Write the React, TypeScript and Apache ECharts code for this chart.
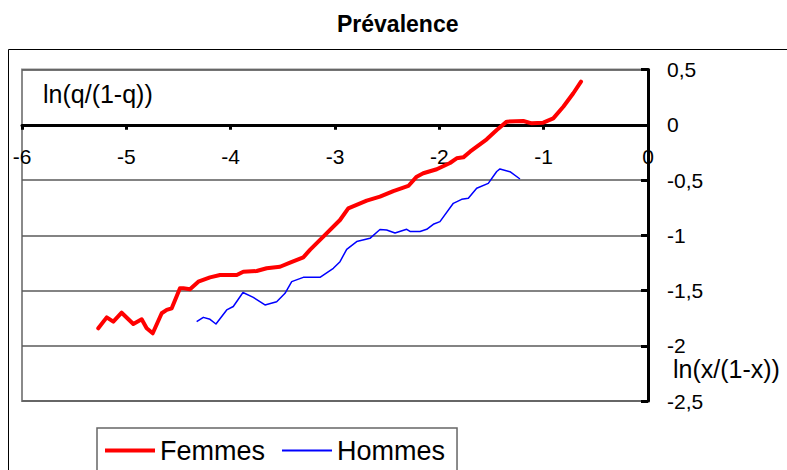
import React, { useEffect, useRef } from "react";
import * as echarts from "echarts";

const FONT = "'Liberation Sans', Arial, sans-serif";

const seriesNames = ["Femmes", "Hommes"];

const femmesX = [
  -5.269, -5.188, -5.125, -5.045, -4.933, -4.853, -4.805, -4.747, -4.661, -4.613,
  -4.565, -4.486, -4.454, -4.39, -4.31, -4.198, -4.102, -3.942, -3.879, -3.751,
  -3.655, -3.527, -3.431, -3.304, -3.24, -3.112, -2.952, -2.873, -2.696, -2.569,
  -2.441, -2.297, -2.217, -2.154, -2.025, -1.898, -1.834, -1.77, -1.706, -1.546,
  -1.45, -1.354, -1.195, -1.115, -1.004, -0.908, -0.812, -0.716, -0.642,
];
const femmesY = [
  -1.842, -1.743, -1.782, -1.701, -1.803, -1.761, -1.842, -1.887, -1.706, -1.676,
  -1.661, -1.48, -1.48, -1.489, -1.42, -1.381, -1.36, -1.36, -1.33, -1.324,
  -1.299, -1.285, -1.248, -1.2, -1.133, -1.013, -0.862, -0.756, -0.687, -0.651,
  -0.6, -0.554, -0.47, -0.439, -0.403, -0.346, -0.304, -0.295, -0.244, -0.132,
  -0.048, 0.028, 0.034, 0.013, 0.019, 0.058, 0.163, 0.285, 0.39,
];

const hommesX = [
  -4.326, -4.262, -4.198, -4.141, -4.038, -3.975, -3.882, -3.783, -3.671, -3.559,
  -3.479, -3.415, -3.304, -3.144, -3.016, -2.952, -2.888, -2.792, -2.665, -2.569,
  -2.505, -2.425, -2.313, -2.281, -2.185, -2.121, -2.058, -1.994, -1.866, -1.786,
  -1.722, -1.642, -1.531, -1.45, -1.419, -1.323, -1.227,
];
const hommesY = [
  -1.782, -1.743, -1.761, -1.803, -1.676, -1.645, -1.518, -1.562, -1.631, -1.601,
  -1.525, -1.42, -1.381, -1.381, -1.299, -1.239, -1.127, -1.057, -1.028, -0.948,
  -0.952, -0.98, -0.946, -0.966, -0.966, -0.946, -0.901, -0.877, -0.711, -0.675,
  -0.666, -0.575, -0.53, -0.423, -0.4, -0.425, -0.491,
];

const titleText = "Prévalence";
const yAxisTitle = "ln(q/(1-q))";
const xAxisTitle = "ln(x/(1-x))";

const pairs = (xs: number[], ys: number[]) => xs.map((x, i) => [x, ys[i]]);

export default function App() {
  const ref = useRef<HTMLDivElement>(null);

  useEffect(() => {
    if (!ref.current) return;
    const chart = echarts.init(ref.current, null, { renderer: "svg" });
    const xMin = -6;
    const xMax = 0;
    chart.setOption({
      animation: false,
      backgroundColor: "#fff",
      title: {
        text: titleText,
        left: 337,
        top: 12,
        padding: 0,
        textStyle: { fontFamily: FONT, fontSize: 23, fontWeight: "bold", color: "#000" },
      },
      grid: [
        {
          left: 22,
          top: 69.5,
          right: 139,
          bottom: 69,
          show: true,
          borderColor: "#8a8a8a",
          borderWidth: 2,
          backgroundColor: "transparent",
        },
        {
          // band from the top of the plot down to y = 0, used to place the x axis at zero
          left: 22,
          top: 69.5,
          right: 139,
          bottom: 345.25,
          show: false,
        },
      ],
      legend: {
        left: 97,
        top: 428,
        orient: "horizontal",
        padding: [9, 12, 14, 8],
        itemWidth: 50,
        itemHeight: 14,
        itemGap: 17,
        borderColor: "#666",
        borderWidth: 1.5,
        textStyle: { fontFamily: FONT, fontSize: 27, color: "#000" },
        data: [
          { name: seriesNames[0], icon: "path://M0,0H50V4H0Z" },
          { name: seriesNames[1], icon: "path://M0,0H50V2H0Z" },
        ],
      },
      xAxis: [
        {
          type: "value",
          gridIndex: 0,
          min: xMin,
          max: xMax,
          interval: 1,
          show: false,
        },
        {
          type: "value",
          gridIndex: 1,
          position: "bottom",
          min: xMin,
          max: xMax,
          interval: 1,
          axisLine: { show: true, onZero: false, lineStyle: { color: "#000", width: 3 } },
          axisTick: { show: true, length: 5, lineStyle: { color: "#000", width: 3 } },
          axisLabel: { margin: 21, fontSize: 21, fontFamily: FONT, color: "#000" },
          splitLine: { show: false },
        },
      ],
      yAxis: [
        {
          type: "value",
          gridIndex: 0,
          position: "right",
          min: -2.5,
          max: 0.5,
          interval: 0.5,
          axisLine: { show: true, onZero: false, lineStyle: { color: "#000", width: 3 } },
          axisTick: { show: true, inside: true, length: 7, lineStyle: { color: "#000", width: 3 } },
          axisLabel: {
            margin: 19,
            fontSize: 21,
            fontFamily: FONT,
            color: "#000",
            formatter: (v: number) => String(v).replace(".", ","),
          },
          splitLine: { show: true, lineStyle: { color: "#5a5a5a", width: 1.5 } },
        },
        {
          type: "value",
          gridIndex: 1,
          min: 0,
          max: 1,
          show: false,
        },
      ],
      graphic: [
        {
          type: "rect",
          z: -10,
          silent: true,
          shape: { x: 8.5, y: 49.5, width: 900, height: 600 },
          style: { fill: "none", stroke: "#000", lineWidth: 1 },
        },
        {
          type: "text",
          x: 43,
          y: 94,
          style: {
            text: yAxisTitle,
            font: `25px ${FONT}`,
            fill: "#000",
            verticalAlign: "middle",
          },
        },
        {
          type: "text",
          x: 673,
          y: 369,
          style: {
            text: xAxisTitle,
            font: `25px ${FONT}`,
            fill: "#000",
            verticalAlign: "middle",
          },
        },
      ],
      series: [
        {
          name: seriesNames[0],
          type: "line",
          xAxisIndex: 0,
          yAxisIndex: 0,
          data: pairs(femmesX, femmesY),
          showSymbol: false,
          symbol: "none",
          lineStyle: { color: "#ff0000", width: 4, join: "round", cap: "round" },
          itemStyle: { color: "#ff0000" },
          z: 5,
        },
        {
          name: seriesNames[1],
          type: "line",
          xAxisIndex: 0,
          yAxisIndex: 0,
          data: pairs(hommesX, hommesY),
          showSymbol: false,
          symbol: "none",
          lineStyle: { color: "#0000ff", width: 1.5, join: "round" },
          itemStyle: { color: "#0000ff" },
          z: 4,
        },
      ],
    });
    return () => chart.dispose();
  }, []);

  return (
    <div
      ref={ref}
      style={{ position: "absolute", left: 0, top: 0, width: 787, height: 470 }}
    />
  );
}
